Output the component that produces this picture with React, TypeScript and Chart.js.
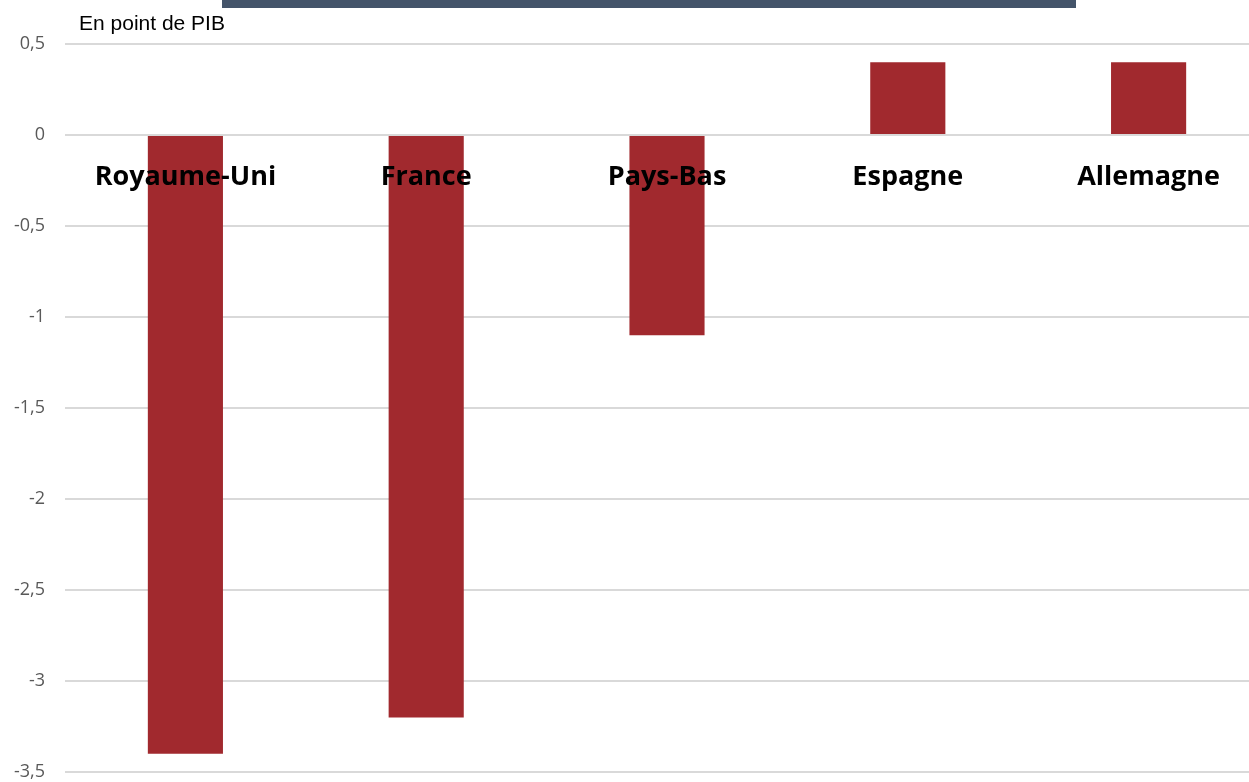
import React, { useEffect, useRef } from "react";
import { Chart, registerables } from "chart.js";

Chart.register(...registerables);

const categories: string[] = ["Royaume-Uni", "France", "Pays-Bas", "Espagne", "Allemagne"];
const values: number[] = [-3.4, -3.2, -1.1, 0.4, 0.4];
const yMin = -3.5;
const yMax = 0.5;
const yStep = 0.5;
const unitLabel = "En point de PIB";

export default function App() {
  const ref = useRef<HTMLCanvasElement | null>(null);

  useEffect(() => {
    if (!ref.current) return;
    const chart = new Chart(ref.current, {
      type: "bar",
      data: {
        labels: categories,
        datasets: [
          {
            data: values,
            backgroundColor: "#a1292e",
            borderWidth: 0,
            categoryPercentage: 1,
            barPercentage: 0.312,
          },
        ],
      },
      options: {
        animation: false,
        responsive: false,
        maintainAspectRatio: false,
        layout: { padding: { top: 44, bottom: 10, left: 0, right: 0 } },
        plugins: { legend: { display: false }, tooltip: { enabled: false } },
        scales: {
          x: {
            position: { y: 0 },
            afterFit: (s: any) => {
              s.height = 0;
              s.paddingLeft = 0;
              s.paddingRight = 0;
              s.paddingTop = 0;
              s.paddingBottom = 0;
            },
            grid: { display: false },
            border: { display: false },
            ticks: {
              z: 1,
              color: "#000000",
              font: { family: "'Open Sans'", size: 27, weight: "bold" },
              padding: 18,
              maxRotation: 0,
              autoSkip: false,
            },
          },
          y: {
            min: yMin,
            max: yMax,
            afterFit: (s: any) => {
              s.width = 65;
              s.paddingTop = 0;
              s.paddingBottom = 0;
            },
            grid: { color: "#d9d9d9", lineWidth: 2, drawTicks: false },
            border: { display: false },
            ticks: {
              stepSize: yStep,
              color: "#595959",
              padding: 20,
              font: { family: "'Open Sans'", size: 18 },
              callback: (v: any) => String(Number(v)).replace(".", ","),
            },
          },
        },
      },
    });
    return () => chart.destroy();
  }, []);

  return (
    <div style={{ position: "fixed", left: 0, top: 0, width: 1249, height: 782, background: "#fff", overflow: "hidden" }}>
      <canvas ref={ref} width={1269} height={782} style={{ position: "absolute", left: 0, top: 0 }} />
      <div style={{ position: "absolute", left: 222, top: 0, width: 854, height: 8, background: "#44546a" }} />
      <div
        style={{
          position: "absolute",
          left: 79,
          top: 10,
          fontFamily: "'Liberation Sans', Arial, sans-serif",
          fontSize: 21,
          color: "#000",
          lineHeight: "25px",
          whiteSpace: "nowrap",
        }}
      >
        {unitLabel}
      </div>
    </div>
  );
}
